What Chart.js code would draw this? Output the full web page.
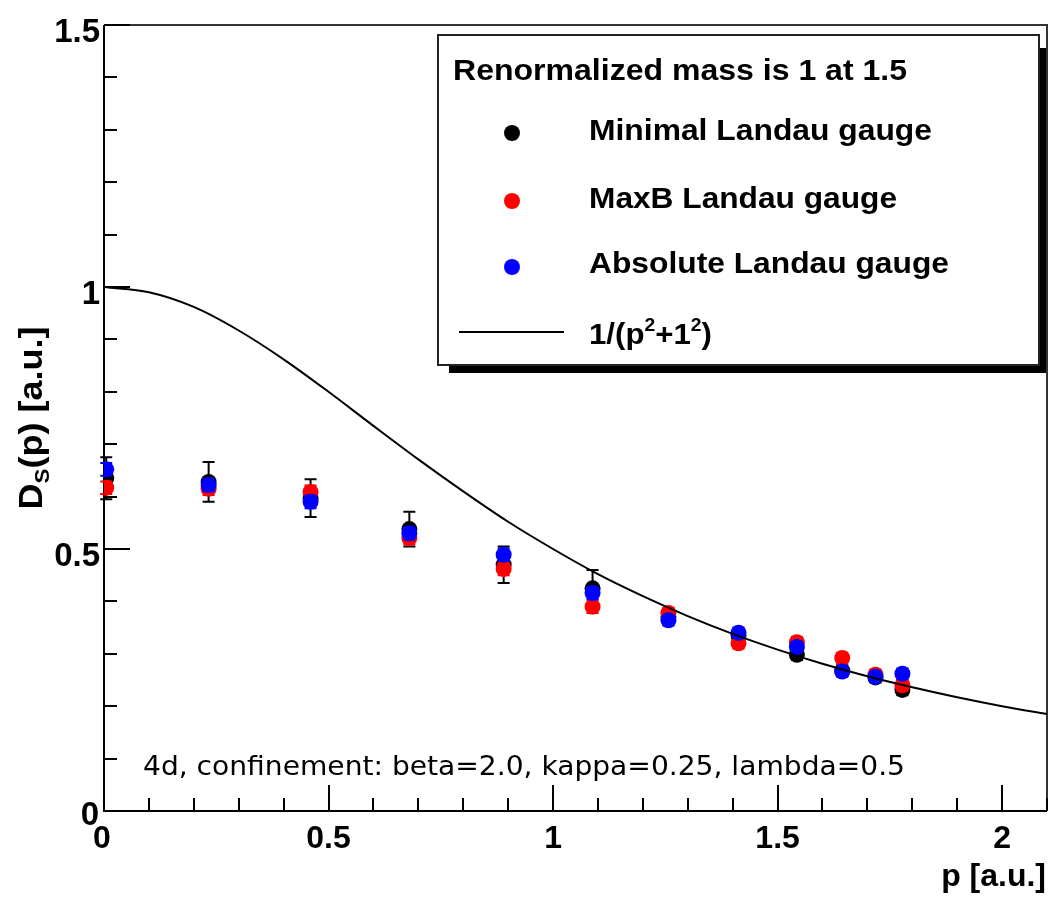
<!DOCTYPE html>
<html>
<head>
<meta charset="utf-8">
<script src="https://cdn.jsdelivr.net/npm/chart.js@4.4.1/dist/chart.umd.min.js"></script>
<style>
  html, body { margin: 0; padding: 0; background: #fff; }
  canvas { display: block; }
</style>
</head>
<body>
<canvas id="chart" width="1049" height="898"></canvas>
<script>
// momenta p [a.u.] (same for all three gauges)
const momenta = [0.005, 0.233, 0.46, 0.68, 0.89, 1.088, 1.257, 1.413, 1.543, 1.644, 1.718, 1.778];

const minimalVals = [0.635, 0.628, 0.597, 0.538, 0.47, 0.425, 0.37, 0.335, 0.298, 0.268, 0.255, 0.231];
const minimalErr  = [0.04, 0.038, 0.036, 0.033, 0.035, 0.035, 0.012, 0.01, 0.01, 0.01, 0.01, 0.01];

const maxbVals = [0.617, 0.615, 0.609, 0.521, 0.462, 0.39, 0.378, 0.32, 0.322, 0.292, 0.26, 0.24];
const maxbErr  = [0.012, 0.012, 0.012, 0.012, 0.012, 0.012, 0.01, 0.01, 0.01, 0.01, 0.01, 0.01];

const absVals = [0.652, 0.622, 0.59, 0.53, 0.489, 0.416, 0.364, 0.34, 0.313, 0.266, 0.256, 0.262];
const absErr  = [0.012, 0.012, 0.012, 0.012, 0.012, 0.012, 0.01, 0.01, 0.01, 0.01, 0.01, 0.01];

// reference curve 1/(p^2+1^2)
const curveP = [0, 0.1, 0.2, 0.3, 0.4, 0.5, 0.6, 0.7, 0.8, 0.9, 1.0, 1.1, 1.2, 1.3, 1.4, 1.5, 1.6, 1.7, 1.8, 1.9, 2.0, 2.1];
const curveVals = [1.0, 0.99, 0.962, 0.917, 0.862, 0.8, 0.735, 0.671, 0.61, 0.552, 0.5, 0.452, 0.41, 0.372, 0.338, 0.308, 0.281, 0.257, 0.236, 0.217, 0.2, 0.185];

const seriesNames = ["Minimal Landau gauge", "MaxB Landau gauge", "Absolute Landau gauge"];
const legendTitle = "Renormalized mass is 1 at 1.5";
const noteText = "4d, confinement: beta=2.0, kappa=0.25, lambda=0.5";

const xTickLabels = [0, 0.5, 1, 1.5, 2];
const yTickLabels = [0.5, 1, 1.5];

const FONT = '"Liberation Sans", Arial, Helvetica, sans-serif';

function pts(xs, ys) {
  return xs.map((x, i) => ({ x: x, y: ys[i] }));
}

// draw text made of normal / sup / sub pieces, optionally squeezed to a width
function drawRich(ctx, segs, x, y, o) {
  const size = o.size;
  const weight = o.weight || "bold";
  const fam = o.family || FONT;
  let w = 0;
  const sizes = segs.map(s => (s[1] ? size * 0.62 : size));
  segs.forEach((s, i) => {
    ctx.font = weight + " " + sizes[i] + "px " + fam;
    w += ctx.measureText(s[0]).width;
  });
  const sx = o.width ? o.width / w : 1;
  let off = 0;
  if (o.align === "center") off = -w * sx / 2;
  else if (o.align === "right") off = -w * sx;
  ctx.save();
  ctx.translate(x + off, y);
  ctx.scale(sx, 1);
  ctx.fillStyle = o.color || "#000";
  ctx.textBaseline = "alphabetic";
  ctx.textAlign = "left";
  let cx = 0;
  segs.forEach((s, i) => {
    ctx.font = weight + " " + sizes[i] + "px " + fam;
    let dy = 0;
    if (s[1] === "sup") dy = -size * 0.42;
    if (s[1] === "sub") dy = size * 0.2;
    ctx.fillText(s[0], cx, dy);
    cx += ctx.measureText(s[0]).width;
  });
  ctx.restore();
}

const errorBars = {
  id: "errorBars",
  beforeDatasetDraw(chart, args) {
    const ds = chart.data.datasets[args.index];
    if (!ds.errors) return;
    const ctx = chart.ctx;
    const xs = chart.scales.x, ys = chart.scales.y;
    ctx.save();
    ctx.strokeStyle = ds.errColor;
    ctx.lineWidth = 2;
    ds.data.forEach((d, i) => {
      const e = ds.errors[i];
      const px = xs.getPixelForValue(d.x);
      const top = ys.getPixelForValue(d.y + e);
      const bot = ys.getPixelForValue(d.y - e);
      ctx.beginPath();
      ctx.moveTo(px, top); ctx.lineTo(px, bot);
      ctx.moveTo(px - 6, top); ctx.lineTo(px + 6, top);
      ctx.moveTo(px - 6, bot); ctx.lineTo(px + 6, bot);
      ctx.stroke();
    });
    ctx.restore();
  }
};

const frame = {
  id: "frame",
  beforeDatasetsDraw(chart) {
    const ctx = chart.ctx;
    const a = chart.chartArea;
    const xs = chart.scales.x, ys = chart.scales.y;
    ctx.save();
    // grey frame top / right
    ctx.strokeStyle = "#333";
    ctx.lineWidth = 2;
    ctx.beginPath();
    ctx.moveTo(a.left, a.top); ctx.lineTo(a.right, a.top); ctx.lineTo(a.right, a.bottom);
    ctx.stroke();
    // axes
    ctx.strokeStyle = "#000";
    ctx.beginPath();
    ctx.moveTo(a.left, a.top); ctx.lineTo(a.left, a.bottom); ctx.lineTo(a.right, a.bottom);
    ctx.stroke();
    // ticks pointing inside
    ctx.lineWidth = 2;
    ctx.beginPath();
    for (let i = 0; i <= 21; i++) {
      const px = Math.round(xs.getPixelForValue(i / 10));
      const len = i % 5 === 0 ? 26 : 13;
      ctx.moveTo(px, a.bottom); ctx.lineTo(px, a.bottom - len);
    }
    for (let i = 0; i <= 15; i++) {
      const py = Math.round(ys.getPixelForValue(i / 10));
      const len = i % 5 === 0 ? 26 : 13;
      ctx.moveTo(a.left, py); ctx.lineTo(a.left + len, py);
    }
    ctx.stroke();
    ctx.restore();
  },
  afterDraw(chart) {
    const ctx = chart.ctx;
    const a = chart.chartArea;
    const xs = chart.scales.x, ys = chart.scales.y;

    // tick labels
    xTickLabels.forEach(v => {
      drawRich(ctx, [[String(v)]], xs.getPixelForValue(v) - (v === 0 ? 2 : 0), 848, { size: 32, align: "center" });
    });
    yTickLabels.forEach(v => {
      drawRich(ctx, [[String(v)]], a.left - 4, ys.getPixelForValue(v) + 17, { size: 33, align: "right" });
    });
    drawRich(ctx, [["0"]], a.left - 5, ys.getPixelForValue(0) + 14, { size: 33, align: "right" });

    // axis titles
    drawRich(ctx, [["p [a.u.]"]], 1046, 886, { size: 32, align: "right" });
    ctx.save();
    ctx.translate(42, 418);
    ctx.rotate(-Math.PI / 2);
    drawRich(ctx, [["D"], ["S", "sub"], ["(p) [a.u.]"]], 0, 0, { size: 34, align: "center", width: 183 });
    ctx.restore();

    // note
    drawRich(ctx, [[noteText]], 143, 775, { size: 27, weight: "normal", family: '"DejaVu Sans Condensed", "DejaVu Sans", sans-serif', width: 762 });

    // legend box with shadow
    ctx.save();
    ctx.fillStyle = "#000";
    ctx.fillRect(449, 365, 597, 8);
    ctx.fillRect(1039, 48, 7, 325);
    ctx.fillStyle = "#fff";
    ctx.fillRect(438, 35, 601, 330);
    ctx.strokeStyle = "#222";
    ctx.lineWidth = 2;
    ctx.strokeRect(438, 35, 601, 330);
    ctx.restore();

    drawRich(ctx, [[legendTitle]], 453, 80, { size: 30, width: 454 });

    const mColors = ["#000000", "#ff0000", "#0000ff"];
    const mY = [133, 201, 267];
    const tBase = [140, 208, 273];
    const tW = [343, 308, 360];
    seriesNames.forEach((n, i) => {
      ctx.save();
      ctx.fillStyle = mColors[i];
      ctx.beginPath();
      ctx.arc(512, mY[i], 8, 0, Math.PI * 2);
      ctx.fill();
      ctx.restore();
      drawRich(ctx, [[n]], 589, tBase[i], { size: 30, width: tW[i] });
    });
    ctx.save();
    ctx.strokeStyle = "#000";
    ctx.lineWidth = 2;
    ctx.beginPath();
    ctx.moveTo(459, 332); ctx.lineTo(564, 332);
    ctx.stroke();
    ctx.restore();
    drawRich(ctx, [["1/(p"], ["2", "sup"], ["+1"], ["2", "sup"], [")"]], 589, 344, { size: 30, width: 123 });
  }
};

new Chart(document.getElementById("chart"), {
  type: "scatter",
  data: {
    datasets: [
      {
        type: "line",
        label: "1/(p^2+1^2)",
        data: pts(curveP, curveVals),
        borderColor: "#000",
        borderWidth: 2,
        pointRadius: 0,
        cubicInterpolationMode: "monotone",
        fill: false,
        order: 1
      },
      {
        label: seriesNames[2],
        data: pts(momenta, absVals),
        errors: absErr,
        errColor: "#0000ff",
        backgroundColor: "#0000ff",
        borderWidth: 0,
        pointRadius: 8,
        order: 2
      },
      {
        label: seriesNames[1],
        data: pts(momenta, maxbVals),
        errors: maxbErr,
        errColor: "#ff0000",
        backgroundColor: "#ff0000",
        borderWidth: 0,
        pointRadius: 8,
        order: 3
      },
      {
        label: seriesNames[0],
        data: pts(momenta, minimalVals),
        errors: minimalErr,
        errColor: "#000000",
        backgroundColor: "#000000",
        borderWidth: 0,
        pointRadius: 8,
        order: 4
      }
    ]
  },
  options: {
    responsive: false,
    animation: false,
    devicePixelRatio: 1,
    layout: { autoPadding: false, padding: { left: 104, top: 25, right: 2, bottom: 87 } },
    plugins: {
      legend: { display: false },
      tooltip: { enabled: false }
    },
    scales: {
      x: { type: "linear", min: 0, max: 2.1, display: false },
      y: { type: "linear", min: 0, max: 1.5, display: false }
    }
  },
  plugins: [frame, errorBars]
});
</script>
</body>
</html>
